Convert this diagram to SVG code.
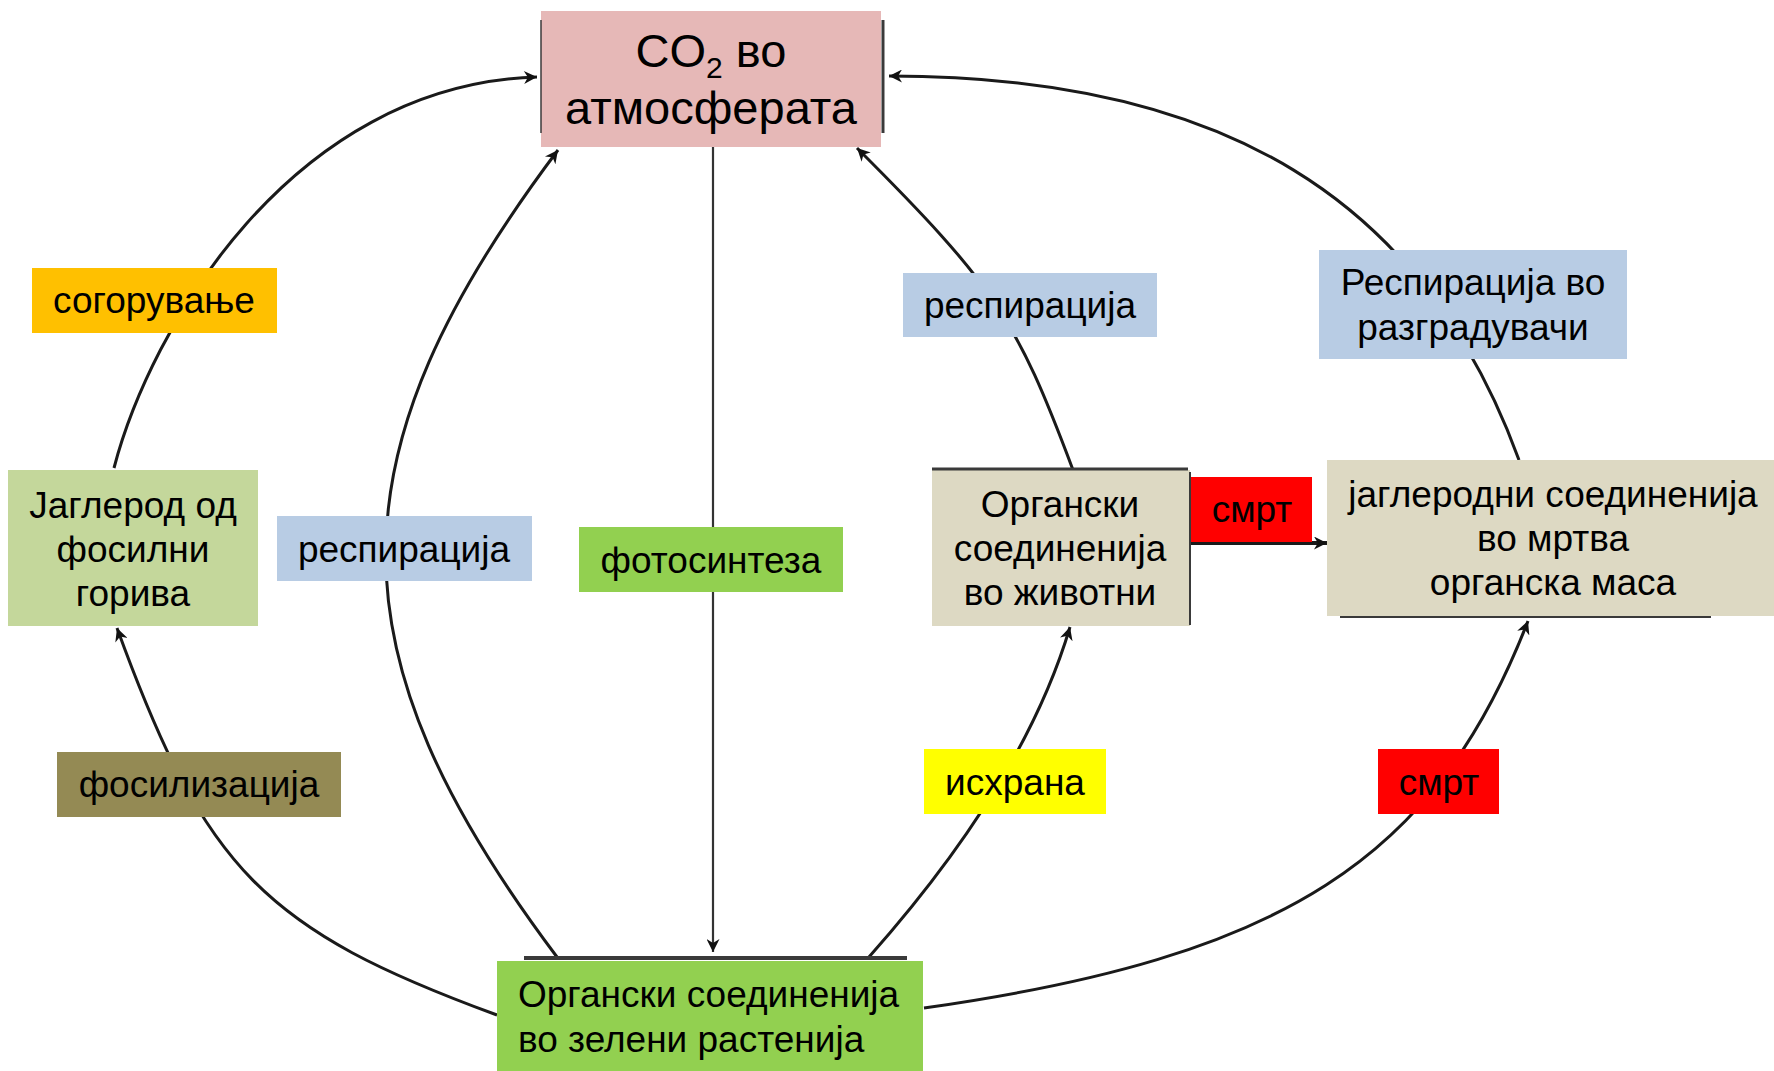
<svg xmlns="http://www.w3.org/2000/svg" width="1774" height="1071" viewBox="0 0 1774 1071">
<style>
  text { font-family: "Liberation Sans", Arial, sans-serif; font-size: 37px; fill: #000; text-anchor: middle; }
  text.big { font-size: 47px; }
  tspan.sub { font-size: 30px; }
  text.left { text-anchor: start; }
  .conn { fill: none; stroke: #1a1a1a; stroke-width: 3; marker-end: url(#ah); }
  .edge { fill: none; stroke: #3a3a3a; }
</style>
<defs>
  <marker id="ah" viewBox="0 0 10 10" refX="10" refY="5" markerUnits="userSpaceOnUse" markerWidth="18" markerHeight="13" orient="auto">
    <path d="M0,0 L10,5 L0,10 L3,5 z" fill="#111"/>
  </marker>
</defs>
<rect width="1774" height="1071" fill="#fff"/>

<g id="connectors">
  <path class="conn" d="M114,468 C150,330 290,85 537,77"/>
  <path class="conn" d="M497,1015 C265,930 205,870 117,628"/>
  <path class="conn" d="M557,957 C328,652 329,455 558,150"/>
  <path class="conn" style="stroke-width:2.2;stroke:#333" d="M713,147 L713,952"/>
  <path class="conn" d="M1073,470 C1016,318 995,286 857,148"/>
  <path class="conn" d="M1519,460 C1424,199 1223,76 889,76"/>
  <path class="conn" d="M869,957 C955,860 1035,745 1070,627"/>
  <path class="conn" d="M924,1008 C1284,957 1435,860 1528,621"/>
  <path class="conn" style="stroke-width:4" d="M1190,543 L1327,543"/>
</g>

<g id="co2">
  <rect x="541" y="11" width="340" height="136" fill="#e6b8b7"/>
  <line class="edge" x1="541" y1="20" x2="541" y2="133" stroke-width="1.5"/>
  <line class="edge" x1="883" y1="20" x2="883" y2="133" stroke-width="3" stroke="#666"/>
  <text class="big" x="711" y="67">CO<tspan class="sub" dy="11">2</tspan><tspan dy="-11"> во</tspan></text>
  <text class="big" x="711" y="124">атмосферата</text>
</g>

<g id="fossil">
  <rect x="8" y="470" width="250" height="156" fill="#c4d79b"/>
  <text x="133" y="518">Јаглерод од</text>
  <text x="133" y="562">фосилни</text>
  <text x="133" y="606">горива</text>
</g>

<g id="label-combustion">
  <rect x="32" y="268" width="245" height="65" fill="#ffc000"/>
  <text x="154" y="313">согорување</text>
</g>

<g id="label-resp-left">
  <rect x="277" y="516" width="255" height="65" fill="#b8cce4"/>
  <text x="404" y="562">респирација</text>
</g>

<g id="label-photo">
  <rect x="579" y="527" width="264" height="65" fill="#92d050"/>
  <text x="711" y="573">фотосинтеза</text>
</g>

<g id="label-resp-right">
  <rect x="903" y="273" width="254" height="64" fill="#b8cce4"/>
  <text x="1030" y="318">респирација</text>
</g>

<g id="label-decomp">
  <rect x="1319" y="250" width="308" height="109" fill="#b8cce4"/>
  <text x="1473" y="295">Респирација во</text>
  <text x="1473" y="340">разградувачи</text>
</g>

<g id="animals">
  <rect x="932" y="470" width="258" height="156" fill="#ddd9c3"/>
  <line class="edge" x1="932" y1="469" x2="1188" y2="469" stroke-width="3" stroke="#c8c8c8"/>
  <line class="edge" x1="1190" y1="472" x2="1190" y2="625" stroke-width="2"/>
  <text x="1060" y="517">Органски</text>
  <text x="1060" y="561">соединенија</text>
  <text x="1060" y="605">во животни</text>
</g>

<g id="label-death-mid">
  <rect x="1191" y="477" width="121" height="65" fill="#ff0000"/>
  <text x="1252" y="522">смрт</text>
</g>

<g id="dead-mass">
  <rect x="1327" y="460" width="447" height="156" fill="#ddd9c3"/>
  <line class="edge" x1="1340" y1="617" x2="1711" y2="617" stroke-width="2"/>
  <text x="1553" y="507">јаглеродни соединенија</text>
  <text x="1553" y="551">во мртва</text>
  <text x="1553" y="595">органска маса</text>
</g>

<g id="label-fossilization">
  <rect x="57" y="752" width="284" height="65" fill="#948a54"/>
  <text x="199" y="797">фосилизација</text>
</g>

<g id="label-feeding">
  <rect x="924" y="749" width="182" height="65" fill="#ffff00"/>
  <text x="1015" y="795">исхрана</text>
</g>

<g id="label-death-bottom">
  <rect x="1378" y="749" width="121" height="65" fill="#ff0000"/>
  <text x="1439" y="795">смрт</text>
</g>

<g id="plants">
  <line class="edge" x1="524" y1="958" x2="907" y2="958" stroke-width="4" stroke="#444"/>
  <rect x="497" y="961" width="426" height="110" fill="#92d050"/>
  <text class="left" x="518" y="1007">Органски соединенија</text>
  <text class="left" x="518" y="1052">во зелени растенија</text>
</g>
</svg>
